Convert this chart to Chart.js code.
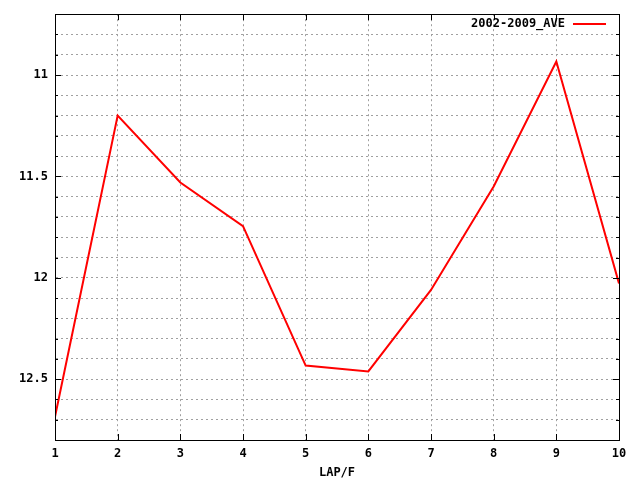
<!DOCTYPE html>
<html>
<head>
<meta charset="utf-8">
<script src="https://cdn.jsdelivr.net/npm/chart.js@4/dist/chart.umd.min.js"></script>
<style>
  html, body { margin: 0; padding: 0; background: #fff; }
  #wrap { width: 640px; height: 480px; }
</style>
</head>
<body>
<div id="wrap"><canvas id="chart" width="640" height="480"></canvas></div>
<script>
// data
const laps = [1, 2, 3, 4, 5, 6, 7, 8, 9, 10]
const ave = [12.685, 11.2, 11.53, 11.745, 12.433, 12.462, 12.06, 11.55, 10.933, 12.028]
const seriesName = '2002-2009_AVE'
const yLabels = [11, 11.5, 12, 12.5]
const xTitle = 'LAP/F'

const FONT = 'bold 12px "DejaVu Sans Mono", "Liberation Mono", monospace'

function isMajorY(v) {
  return yLabels.some(l => Math.abs(l - v) < 1e-6)
}

// gnuplot-like frame, inward ticks and legend
const gnuplotLook = {
  id: 'gnuplotLook',
  afterDraw(chart) {
    const { ctx, chartArea: a, scales } = chart
    ctx.save()
    ctx.strokeStyle = '#000'
    ctx.lineWidth = 1
    ctx.strokeRect(Math.round(a.left) + 0.5, Math.round(a.top) + 0.5,
      Math.round(a.right - a.left), Math.round(a.bottom - a.top))

    // y ticks (both sides)
    ctx.beginPath()
    scales.y.ticks.forEach(t => {
      const y = Math.round(scales.y.getPixelForValue(t.value)) + 0.5
      const len = isMajorY(t.value) ? 6 : 3
      ctx.moveTo(a.left, y); ctx.lineTo(a.left + len, y)
      ctx.moveTo(a.right, y); ctx.lineTo(a.right - len, y)
    })
    // x ticks (bottom and top)
    scales.x.ticks.forEach(t => {
      const x = Math.round(scales.x.getPixelForValue(t.value)) + 0.5
      ctx.moveTo(x, a.bottom); ctx.lineTo(x, a.bottom - 6)
      ctx.moveTo(x, a.top); ctx.lineTo(x, a.top + 6)
    })
    ctx.stroke()

    // legend, top right
    ctx.font = FONT
    ctx.fillStyle = '#000'
    ctx.textAlign = 'right'
    ctx.textBaseline = 'middle'
    ctx.fillText(seriesName, 565, 24)
    ctx.strokeStyle = '#ff0000'
    ctx.lineWidth = 2
    ctx.beginPath()
    ctx.moveTo(573, 24); ctx.lineTo(606, 24)
    ctx.stroke()
    ctx.restore()
  }
}

new Chart(document.getElementById('chart'), {
  type: 'line',
  data: {
    datasets: [{
      label: seriesName,
      data: laps.map((x, i) => ({ x: x, y: ave[i] })),
      borderColor: '#ff0000',
      borderWidth: 2,
      pointRadius: 0,
      tension: 0,
      fill: false
    }]
  },
  options: {
    responsive: false,
    animation: false,
    devicePixelRatio: 1,
    layout: { padding: { top: 13, right: 21, left: 0, bottom: 0 } },
    plugins: {
      legend: { display: false },
      tooltip: { enabled: false }
    },
    scales: {
      x: {
        type: 'linear',
        min: 1,
        max: 10,
        ticks: {
          stepSize: 1,
          color: '#000',
          font: { family: '"DejaVu Sans Mono", monospace', size: 12, weight: 'bold' },
          padding: 7,
          maxRotation: 0
        },
        grid: { color: '#a0a0a0', drawTicks: false },
        border: { color: '#000', dash: [2, 3] },
        title: {
          display: true,
          text: xTitle,
          color: '#000',
          font: { family: '"DejaVu Sans Mono", monospace', size: 12, weight: 'bold' },
          padding: { top: 4, bottom: 0 }
        },
        afterFit(scale) { scale.height = 40 }
      },
      y: {
        type: 'linear',
        reverse: true,
        min: 10.7,
        max: 12.8,
        ticks: {
          stepSize: 0.1,
          color: '#000',
          font: { family: '"DejaVu Sans Mono", monospace', size: 12, weight: 'bold' },
          padding: 7,
          autoSkip: false,
          callback: v => isMajorY(v) ? String(Math.round(v * 10) / 10) : ''
        },
        grid: { color: '#a0a0a0', drawTicks: false },
        border: { color: '#000', dash: [2, 3] },
        afterFit(scale) { scale.width = 55 }
      }
    }
  },
  plugins: [gnuplotLook]
})
</script>
</body>
</html>
